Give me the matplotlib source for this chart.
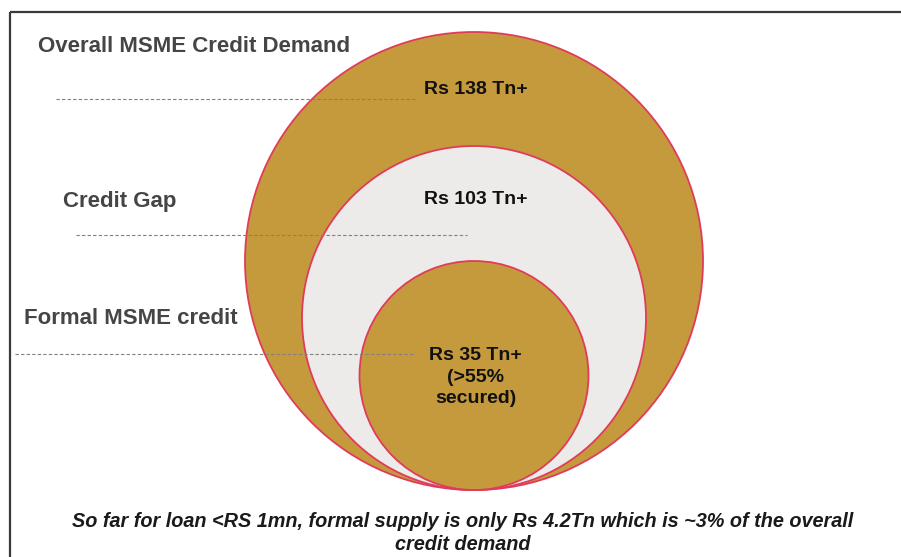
import matplotlib
matplotlib.use("Agg")
import matplotlib.pyplot as plt
from matplotlib.patches import Circle

plt.rcParams['font.family'] = ['Liberation Sans', 'DejaVu Sans']

# credit tiers, outermost first
tiers = ["Overall MSME Credit Demand", "Credit Gap", "Formal MSME credit"]
values_tn = [138, 103, 35]
value_notes = ["", "", "(>55%\nsecured)"]
caption = ("So far for loan <RS 1mn, formal supply is only Rs 4.2Tn which is ~3% of the overall\n"
           "credit demand")

# layout in pixel units
radii = [229, 172, 114.5]
fills = ['#C49A3C', '#EDEBEA', '#C49A3C']
base_y = 490
cx = 474
tier_label_xy = [(38, 47), (63, 201), (24, 318)]
leader_lines = [(56, 415, 99), (76, 467, 235), (15, 415, 354)]
value_y = [90, 200, 377]

fig = plt.figure(figsize=(9.01, 5.57), dpi=100)
ax = fig.add_axes([0, 0, 1, 1])
ax.set_xlim(0, 901)
ax.set_ylim(557, 0)
ax.axis('off')

# frame (top and left edges)
ax.plot([10, 901], [12, 12], color='#3a3a3a', lw=1.6, solid_capstyle='butt')
ax.plot([10, 10], [12, 557], color='#3a3a3a', lw=1.6, solid_capstyle='butt')

for r, fc in zip(radii, fills):
    ax.add_patch(Circle((cx, base_y - r), r, facecolor=fc, edgecolor='#E03C5A', lw=1.3, zorder=2))

for (x0, x1, y) in leader_lines:
    ax.plot([x0, x1], [y, y], color='#808080', lw=0.8, ls=(0, (3, 2)), zorder=3)

for name, (tx, ty) in zip(tiers, tier_label_xy):
    ax.text(tx, ty, name, fontsize=16, fontweight='bold', color='#454545',
            ha='left', va='center', zorder=4)

for v, note, y in zip(values_tn, value_notes, value_y):
    s = f"Rs {v} Tn+"
    if note:
        s += "\n" + note
    ax.text(cx + 1.5, y, s, fontsize=14, fontweight='bold', color='#111111',
            ha='center', va='center', linespacing=1.35, zorder=4)

ax.text(463, 533, caption, fontsize=14.3, fontweight='bold', style='italic',
        color='#1a1a1a', ha='center', va='center', linespacing=1.3)

fig.savefig('out.png', dpi=100)
